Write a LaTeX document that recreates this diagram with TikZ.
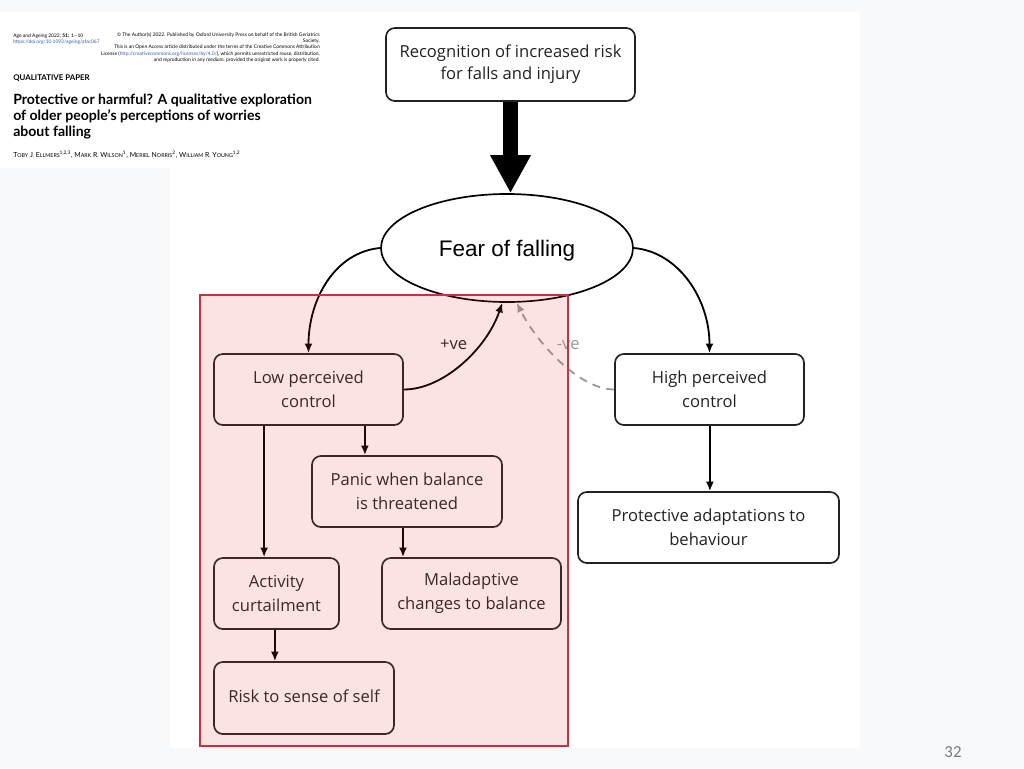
\documentclass[tikz,border=0pt]{standalone}
\usepackage{fontspec}
\setmainfont{Open Sans}
\newfontfamily\arialfont{Liberation Sans}
\newfontfamily\paperfont{Lato}
\newfontfamily\slidefont{Carlito}
\usetikzlibrary{arrows.meta,shapes.geometric}

\definecolor{slidebg}{HTML}{F8F9FB}
\definecolor{boxline}{HTML}{222222}
\definecolor{boxtext}{HTML}{222222}
\definecolor{negline}{HTML}{9A9A9A}
\definecolor{zonered}{HTML}{C8323A}
\definecolor{zonefill}{HTML}{F03C3C}
\definecolor{doiblue}{HTML}{3A5BA8}
\definecolor{pagenum}{HTML}{7A7A7A}

\newcommand{\fakesc}[2]{#1{\fontsize{3.8}{4}\selectfont#2}}

\begin{document}
\begin{tikzpicture}[
                box/.style={
                    draw=boxline,
                    line width=1.2pt,
                    rounded corners=2.2mm,
                    fill=white,
                    text=boxtext,
                    align=center,
                    inner sep=0pt,
                    minimum height=17.75mm,
                    font=\fontsize{11.8}{17}\selectfont
                },
                arr/.style={
                    draw=black,
                    line width=1.3pt,
                    -{Latex[length=2.4mm,width=2mm]}
                },
                tiny/.style={
                    inner sep=0pt,
                    font=\paperfont\fontsize{3.5}{4}\selectfont
                },
                sign/.style={
                    inner sep=0pt,
                    font=\fontsize{11.8}{13}\selectfont
                },
                x=0.25mm,
                y=-0.25mm
            ]

        \useasboundingbox (0,0) rectangle (1024,768);

        % slide background
        \fill[slidebg] (0,0) rectangle (1024,768);
        \fill[white] (0,12) rectangle (345,168);
        \fill[white] (170,12) rectangle (860,748);

        % paper header
        \node[tiny, anchor=base west] (jrn) at (13,37)
            {Age and Ageing 2022; \textbf{51:} 1--10};
        \node[tiny, anchor=base west, text=doiblue] (doi) at (13,43)
            {https://doi.org/10.1093/ageing/afac067};
        \foreach \y/\t in {
                36/{\textcopyright\ The Author(s) 2022. Published by Oxford University Press on behalf of the British Geriatrics},
                42/{Society.},
                48/{This is an Open Access article distributed under the terms of the Creative Commons Attribution},
                55/{License (\textcolor{doiblue}{http://creativecommons.org/licenses/by/4.0/}), which permits unrestricted reuse, distribution,},
                61/{and reproduction in any medium, provided the original work is properly cited.}
            }
            \node[tiny, anchor=base east] (lic\y) at (320,\y) {\t};
        \node[anchor=base west, inner sep=0pt,
              font=\paperfont\bfseries\fontsize{5.6}{6}\selectfont] (kind) at (13,80)
            {QUALITATIVE PAPER};
        \node[anchor=north west, inner sep=0pt, align=left,
              font=\paperfont\bfseries\fontsize{10}{11.4}\selectfont] (title) at (13,94)
            {Protective or harmful? A qualitative exploration\\
             of older people’s perceptions of worries\\
             about falling};
        \node[anchor=base west, inner sep=0pt,
              font=\paperfont\fontsize{4.9}{6}\selectfont] (auth) at (13,157)
            {\fakesc{T}{OBY} \fakesc{J}{.} \fakesc{E}{LLMERS}\textsuperscript{1,2,3},
             \fakesc{M}{ARK} \fakesc{R}{.} \fakesc{W}{ILSON}\textsuperscript{1},
             \fakesc{M}{ERIEL} \fakesc{N}{ORRIS}\textsuperscript{2},
             \fakesc{W}{ILLIAM} \fakesc{R}{.} \fakesc{Y}{OUNG}\textsuperscript{1,2}};

        % top of the diagram
        \node[box, minimum width=62.25mm, minimum height=18.25mm] (rec) at (510.5,64.5)
            {\raisebox{-0.5mm}{Recognition of increased risk}\\for falls and injury};
        \node[draw=black, line width=1.2pt, fill=white, ellipse, inner sep=0pt,
              minimum width=63mm, minimum height=27mm,
              text height=15.9pt, text depth=3.4pt,
              font=\arialfont\fontsize{16}{18}\selectfont] (fear) at (507,248)
            {Fear of falling};
        \draw[line width=3.75mm, -{Triangle[length=9.5mm,width=9.5mm]}]
            (rec.south) -- (rec.south |- fear.north);

        % the two routes
        \node[box, minimum width=47.25mm, fill=none] (low) at (308.5,389.5)
            {Low perceived\\control};
        \node[box, minimum width=47.25mm] (high) at (709.5,389.5)
            {High perceived\\control};
        \node[box, minimum width=47.5mm, fill=none] (panic) at (407,491.5)
            {Panic when balance\\is threatened};
        \node[box, minimum width=31.25mm, fill=none] (act) at (276.5,593.5)
            {Activity\\curtailment};
        \node[box, minimum width=44.75mm, fill=none] (mal) at (471.5,593.5)
            {Maladaptive\\changes to balance};
        \node[box, minimum width=45mm, minimum height=18mm, fill=none] (risk) at (304,698)
            {\raisebox{1mm}{Risk to sense of self}};
        \node[box, minimum width=65.25mm] (prot) at (708.5,527.5)
            {Protective adaptations to\\behaviour};

        % connectors
        \draw[arr] (fear.west) .. controls +(-45,4) and +(0,-54) .. (low.north);
        \draw[arr] (fear.east) .. controls +(45,4) and +(0,-54) .. (high.north);
        \draw[arr] (low.east) .. controls +(40,0) and +(-15,45) .. (fear.265)
            node[sign, pos=0.42, yshift=6.3mm, text=boxtext] (pos) {+ve};
        \draw[arr, draw=negline, dash pattern=on 2mm off 1.6mm]
            (high.west) .. controls +(-35,0) and +(20,40) .. (fear.280)
            node[sign, pos=0.42, yshift=6mm, text=negline] (neg) {-ve};
        \draw[arr] ([xshift=14.1mm]low.south) -- ([xshift=14.1mm]low.south |- panic.north);
        \draw[arr] ([xshift=-11.1mm]low.south) -- ([xshift=-11.1mm]low.south |- act.north);
        \draw[arr] ([xshift=-1mm]panic.south) -- ([xshift=-1mm]panic.south |- mal.north);
        \draw[arr] ([xshift=-0.4mm]act.south) -- ([xshift=-0.4mm]act.south |- risk.north);
        \draw[arr] ([xshift=0.1mm]high.south) -- ([xshift=0.1mm]high.south |- prot.north);

        % harmful side
        \filldraw[draw=zonered, line width=1.4pt, fill=zonefill, fill opacity=0.14]
            (200,295) rectangle (568,746);

        % slide number
        \node[font=\slidefont\fontsize{12}{14}\selectfont, text=pagenum] (pnum) at (953,752) {32};

            \end{tikzpicture}
\end{document}
